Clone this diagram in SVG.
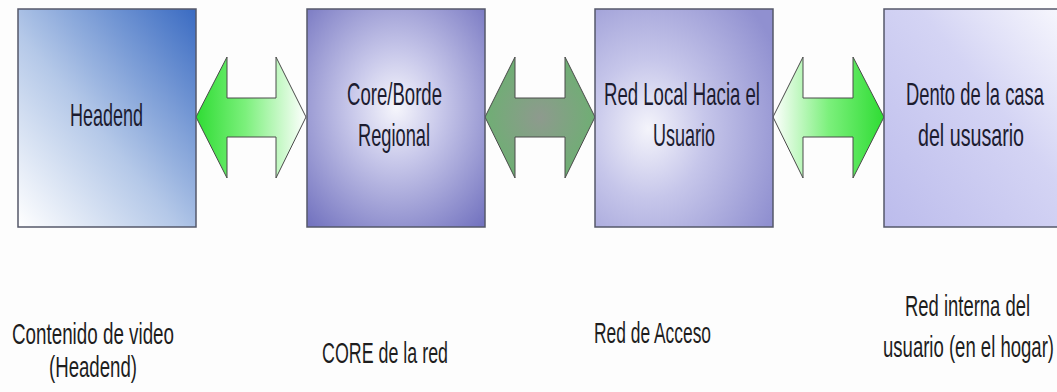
<svg xmlns="http://www.w3.org/2000/svg" width="1057" height="392" viewBox="0 0 1057 392">
<defs>
<linearGradient id="g1" x1="0" y1="1" x2="1" y2="0">
<stop offset="0" stop-color="#ffffff"/>
<stop offset="0.45" stop-color="#b4c8e8"/>
<stop offset="1" stop-color="#3a6bc2"/>
</linearGradient>
<radialGradient id="g2" cx="0.5" cy="0.45" r="0.72">
<stop offset="0" stop-color="#f6f6fc"/>
<stop offset="0.35" stop-color="#c8c8ea"/>
<stop offset="1" stop-color="#7474c0"/>
</radialGradient>
<radialGradient id="g3" cx="0.3" cy="0.55" r="0.8">
<stop offset="0" stop-color="#f4f4fb"/>
<stop offset="0.4" stop-color="#c6c6ea"/>
<stop offset="1" stop-color="#9090d0"/>
</radialGradient>
<linearGradient id="g4" x1="0" y1="1" x2="1" y2="0">
<stop offset="0" stop-color="#bcbcec"/>
<stop offset="0.6" stop-color="#d4d4f4"/>
<stop offset="1" stop-color="#f6f6fd"/>
</linearGradient>
<linearGradient id="a1" x1="0" y1="0" x2="1" y2="0">
<stop offset="0" stop-color="#2fdc34"/>
<stop offset="0.45" stop-color="#7cf07c"/>
<stop offset="1" stop-color="#ffffff"/>
</linearGradient>
<radialGradient id="a2" cx="0.5" cy="0.5" r="0.5">
<stop offset="0" stop-color="#8e9a8e"/>
<stop offset="1" stop-color="#6fae74"/>
</radialGradient>
<linearGradient id="a3" x1="0" y1="0" x2="1" y2="0">
<stop offset="0" stop-color="#ffffff"/>
<stop offset="0.5" stop-color="#7cf07c"/>
<stop offset="1" stop-color="#2fdc34"/>
</linearGradient>
</defs>
<style>
.box{stroke:#55586a;stroke-width:1.5}
.arr{stroke:#4a4a4a;stroke-width:1}
.t{font-family:"Liberation Sans",Arial,sans-serif;font-size:32px;fill:#1c1c30}
.b{font-family:"Liberation Sans",Arial,sans-serif;font-size:30px;fill:#1e1e1e}
</style>
<rect x="0" y="0" width="1057" height="392" fill="#fdfdfd"/>
<g id="connectors">
<polygon class="arr" fill="url(#a1)" points="196,117 227,57 227,98 276,98 276,57 306,117 276,178 276,137 227,137 227,178"/>
<polygon class="arr" fill="url(#a2)" points="485,117 515,57 515,98 565,98 565,57 595,117 565,178 565,137 515,137 515,178"/>
<polygon class="arr" fill="url(#a3)" points="773,117 803,57 803,98 853,98 853,57 884,117 853,178 853,137 803,137 803,178"/>
</g>
<g id="node-headend">
<rect class="box" x="18" y="9" width="178" height="218" fill="url(#g1)"/>
<text class="t" x="70" y="126" textLength="73" lengthAdjust="spacingAndGlyphs">Headend</text>
</g>
<g id="node-core">
<rect class="box" x="307" y="9" width="178" height="218" fill="url(#g2)"/>
<text class="t" x="347" y="105" textLength="95" lengthAdjust="spacingAndGlyphs">Core/Borde</text>
<text class="t" x="358" y="146" textLength="72" lengthAdjust="spacingAndGlyphs">Regional</text>
</g>
<g id="node-red-local">
<rect class="box" x="595" y="9" width="178" height="218" fill="url(#g3)"/>
<text class="t" x="604" y="105" textLength="156" lengthAdjust="spacingAndGlyphs">Red Local Hacia el</text>
<text class="t" x="653" y="146" textLength="62" lengthAdjust="spacingAndGlyphs">Usuario</text>
</g>
<g id="node-casa">
<rect class="box" x="884" y="9" width="174" height="218" fill="url(#g4)"/>
<text class="t" x="906" y="105" textLength="138" lengthAdjust="spacingAndGlyphs">Dento de la casa</text>
<text class="t" x="918" y="146" textLength="106" lengthAdjust="spacingAndGlyphs">del ususario</text>
</g>
<g id="label-contenido">
<text class="b" x="12" y="344" textLength="162" lengthAdjust="spacingAndGlyphs">Contenido de video</text>
<text class="b" x="49" y="377" textLength="88" lengthAdjust="spacingAndGlyphs">(Headend)</text>
</g>
<g id="label-core">
<text class="b" x="322" y="363" textLength="126" lengthAdjust="spacingAndGlyphs">CORE de la red</text>
</g>
<g id="label-acceso">
<text class="b" x="594" y="343" textLength="117" lengthAdjust="spacingAndGlyphs">Red de Acceso</text>
</g>
<g id="label-interna">
<text class="b" x="905" y="316" textLength="125" lengthAdjust="spacingAndGlyphs">Red interna del</text>
<text class="b" x="883" y="357" textLength="171" lengthAdjust="spacingAndGlyphs">usuario (en el hogar)</text>
</g>
</svg>
